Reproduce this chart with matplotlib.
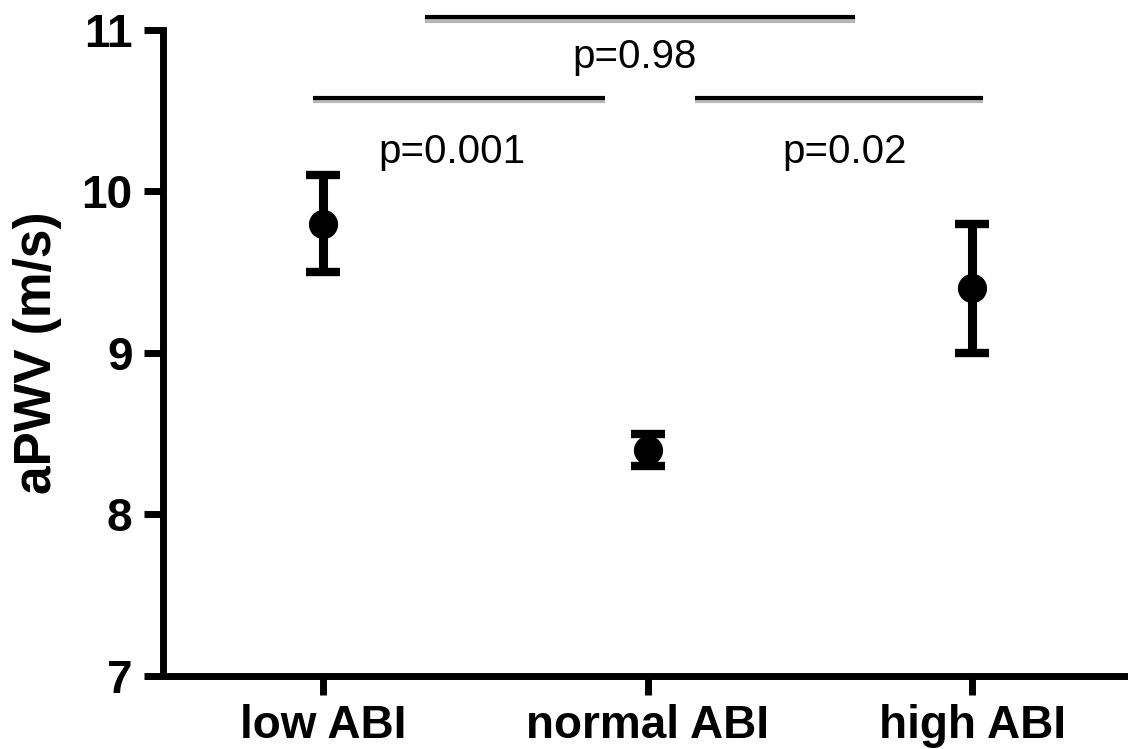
import matplotlib
matplotlib.use("Agg")
import matplotlib.pyplot as plt
import matplotlib.patheffects as pe

categories = ["low ABI", "normal ABI", "high ABI"]
means = [9.8, 8.4, 9.4]
lower = [9.5, 8.3, 9.0]
upper = [10.1, 8.5, 9.8]
yticks = [7, 8, 9, 10, 11]

# significance brackets: (x_start, x_end, y, label, label_x, label_y)
sig_x0 = [0.313, -0.032, 1.145]
sig_x1 = [1.638, 0.868, 2.033]
sig_y = [11.08, 10.58, 10.58]
sig_labels = ["p=0.98", "p=0.001", "p=0.02"]
sig_lx = [0.96, 0.397, 1.608]
sig_ly = [10.83, 10.245, 10.245]

plt.rcParams['font.family'] = ['Liberation Sans', 'DejaVu Sans']
fig = plt.figure(figsize=(11.28, 7.49), dpi=100)
ax = fig.add_axes([0.1445, 0.0975, 1.0 - 0.1445, 0.96 - 0.0975])

xs = list(range(len(categories)))
yerr = [[m - l for m, l in zip(means, lower)], [u - m for m, u in zip(means, upper)]]
ax.errorbar(xs, means, yerr=yerr, fmt='o', color='black', markersize=20,
            elinewidth=6.5, capsize=12.5, capthick=6, ecolor='black', zorder=3)

ax.set_xlim(-0.494, 2.48)
ax.set_ylim(7, 11)
ax.set_yticks(yticks)
ax.set_xticks(xs)
ax.set_xticklabels(categories)
for lab in ax.get_xticklabels() + ax.get_yticklabels():
    lab.set_fontweight('bold')
    lab.set_fontsize(33)
ax.tick_params(axis='both', width=5, length=14, color='black', pad=6)
ax.tick_params(axis='y', pad=8)
ax.spines['top'].set_visible(False)
ax.spines['right'].set_visible(False)
ax.spines['left'].set_linewidth(5)
ax.spines['bottom'].set_linewidth(5)
ax.set_ylabel("aPWV (m/s)", fontsize=37, fontweight='bold', labelpad=14)

shadow = [pe.SimpleLineShadow(offset=(0, -2.5), shadow_color='#888888', alpha=0.6), pe.Normal()]
for x0, x1, y, lab, lx, ly in zip(sig_x0, sig_x1, sig_y, sig_labels, sig_lx, sig_ly):
    ax.plot([x0, x1], [y, y], color='black', lw=3, clip_on=False,
            solid_capstyle='butt', path_effects=shadow)
    ax.text(lx, ly, lab, fontsize=29, ha='center', va='center', clip_on=False)

fig.savefig("out.png", dpi=100)
